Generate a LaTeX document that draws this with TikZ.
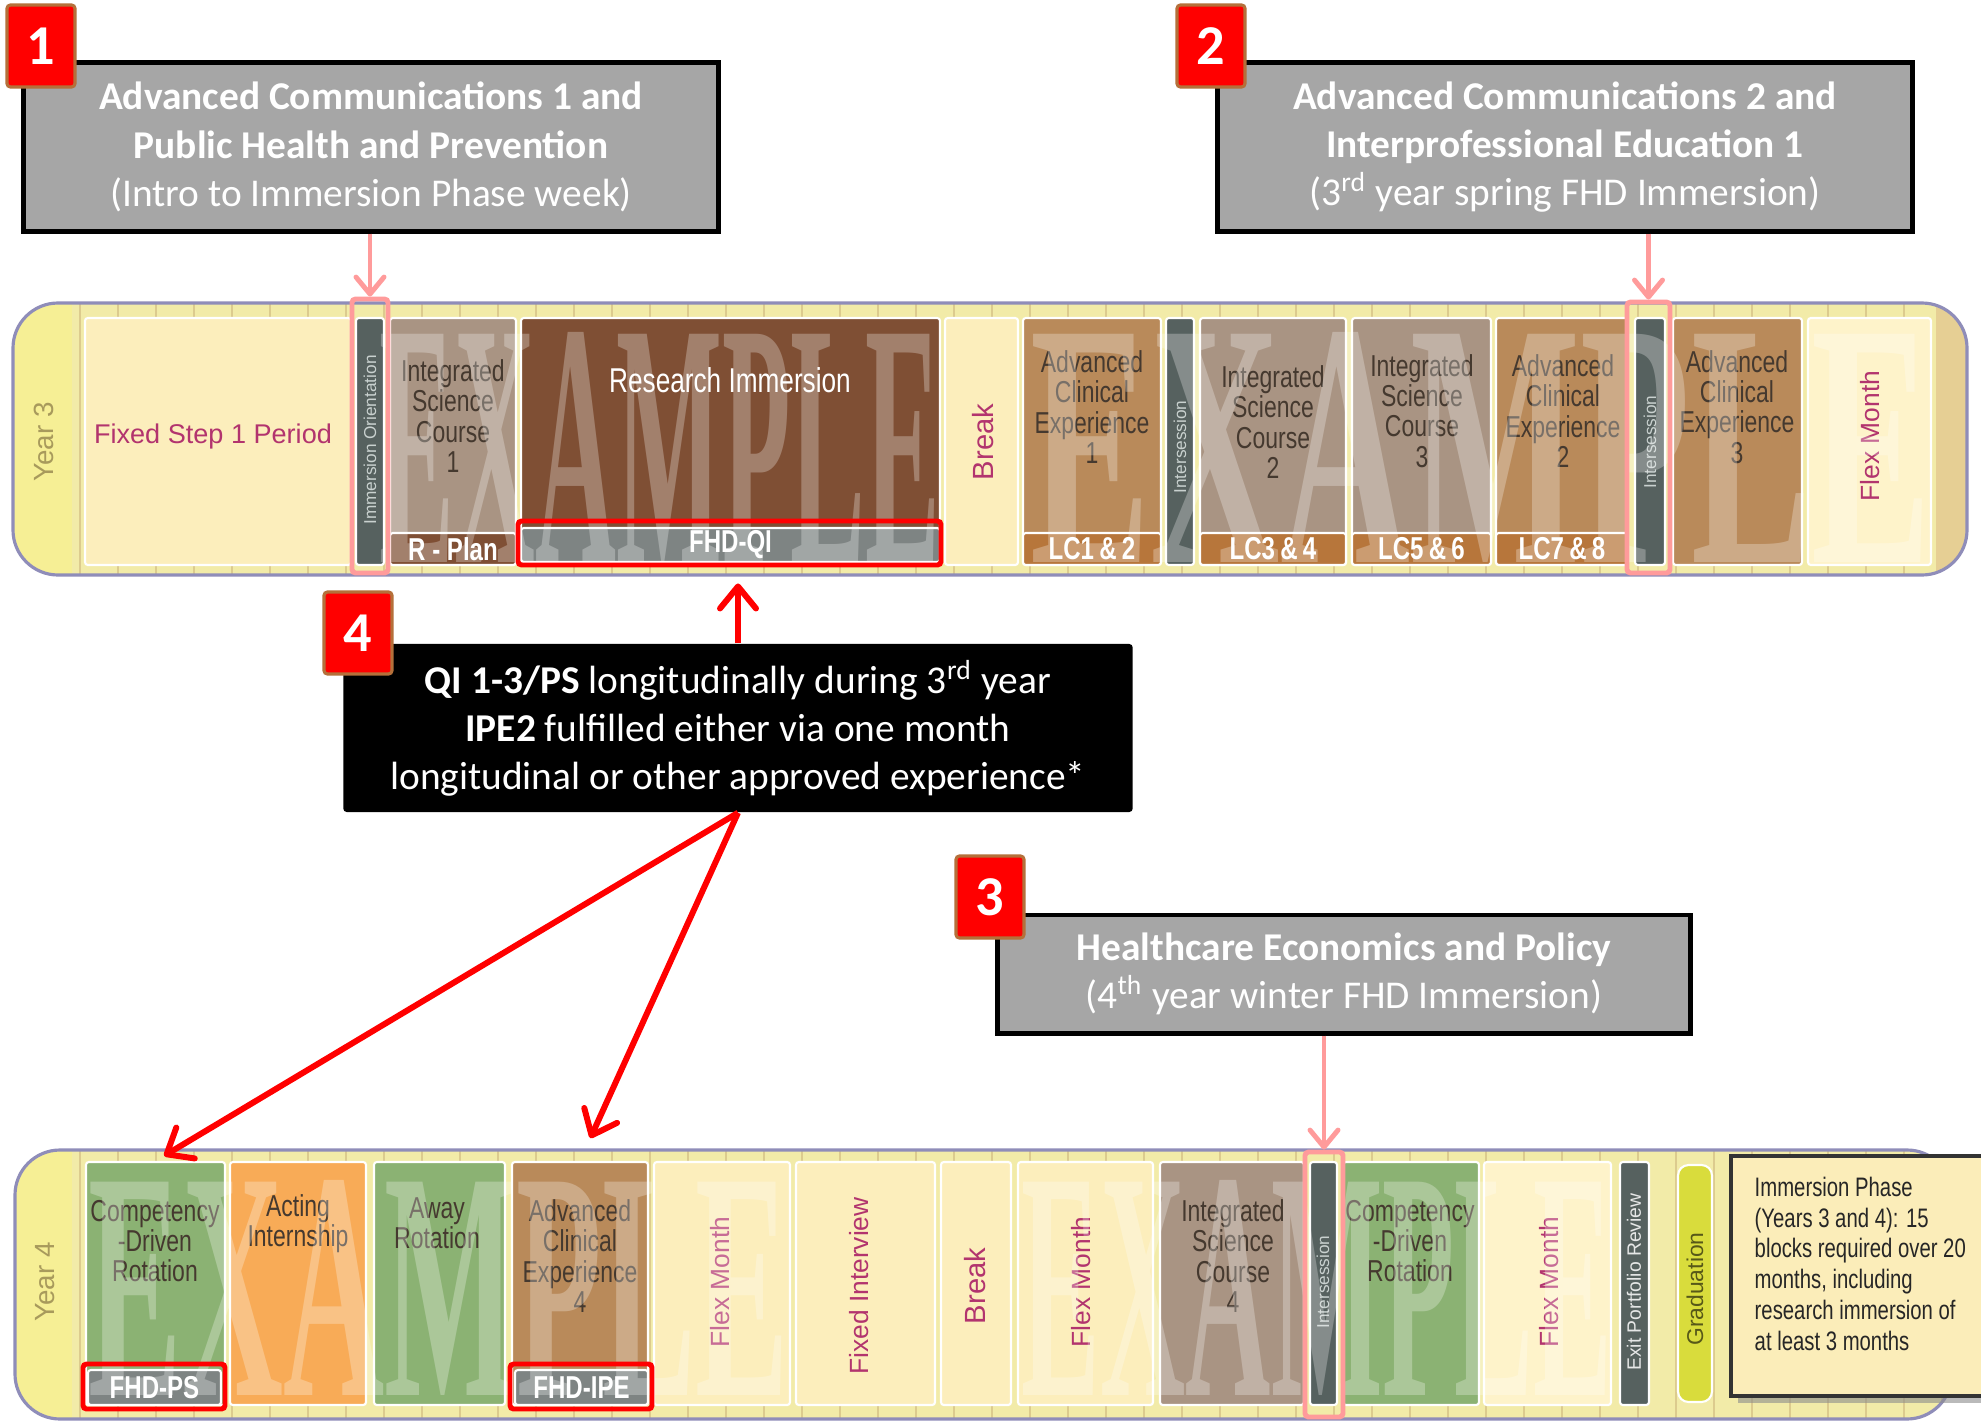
\documentclass[tikz,border=0pt]{standalone}
\usepackage{fontspec}
\usepackage{graphicx}
\setmainfont{Carlito}
\newfontfamily\arialfont{Liberation Sans}
\newfontfamily\narrowfont[FakeStretch=0.76]{Liberation Sans}
\newfontfamily\wmfont{Liberation Serif}
\usetikzlibrary{arrows.meta, fit, positioning, shadows}

\definecolor{bandyel}{HTML}{F2EBA8}
\definecolor{bandrim}{HTML}{8F8DB9}
\definecolor{yearyel}{HTML}{F6EF95}
\definecolor{bandend}{HTML}{E6CF94}
\definecolor{tickc}{HTML}{DCCB8E}
\definecolor{palec}{HTML}{FCEEBC}
\definecolor{palelt}{HTML}{FEF3CA}
\definecolor{slatec}{HTML}{56615F}
\definecolor{iscc}{HTML}{A99483}
\definecolor{resc}{HTML}{7F4F34}
\definecolor{acec}{HTML}{B98A5A}
\definecolor{lcc}{HTML}{B7763B}
\definecolor{fhdc}{HTML}{7E8483}
\definecolor{greenc}{HTML}{8BB273}
\definecolor{orangec}{HTML}{F8AB57}
\definecolor{gradc}{HTML}{D9DC3C}
\definecolor{infoc}{HTML}{FBEDB9}
\definecolor{magc}{HTML}{B2346E}
\definecolor{yeartxt}{HTML}{A89A5C}
\definecolor{callgrey}{HTML}{A6A6A6}
\definecolor{badgerim}{HTML}{B5703A}
\definecolor{hlpink}{HTML}{FF9B9B}
\definecolor{blktxt}{HTML}{45392F}
\definecolor{slatetxt}{HTML}{C9D1CF}

\begin{document}
\begin{tikzpicture}[x=0.01cm, y=-0.01cm,
    callbox/.style={draw=black, line width=1.4pt, fill=callgrey, text=white, align=center,
      inner sep=0pt, font=\fontsize{11.2}{13.7}\selectfont},
    blackbox/.style={fill=black, rounded corners=1pt, text=white, align=center,
      inner sep=0pt, font=\fontsize{11.2}{13.7}\selectfont},
    badge/.style={draw=badgerim, line width=0.9pt, fill=red, text=white, rounded corners=1pt,
      minimum width=0.68cm, minimum height=0.82cm, inner sep=0pt,
      font=\fontsize{16}{16}\selectfont\bfseries},
    yearband/.style={draw=bandrim, line width=0.9pt, rounded corners=0.45cm, inner sep=0pt},
    yearlbl/.style={rotate=90, text=yeartxt, inner sep=0pt, font=\arialfont\fontsize{7.9}{8}\selectfont},
    blk/.style={draw=white, line width=0.6pt, inner sep=0pt, rounded corners=0.8pt},
    blktext/.style={text=blktxt, align=center, inner sep=0pt,
      font=\narrowfont\fontsize{8.6}{8.6}\selectfont},
    magtext/.style={rotate=90, text=magc, inner sep=0pt, font=\arialfont\fontsize{7.5}{8}\selectfont},
    slatetext/.style={rotate=90, text=slatetxt, inner sep=0pt, font=\arialfont\fontsize{4.9}{5}\selectfont},
    striptext/.style={text=white, inner sep=0pt, font=\narrowfont\bfseries\fontsize{9}{9}\selectfont},
    wmark/.style={text=white, text opacity=0.28, inner sep=0pt, font=\wmfont\bfseries},
    hl/.style={draw=hlpink, line width=1.4pt, rounded corners=1pt, inner sep=0pt},
    redbox/.style={draw=red, line width=1.4pt, rounded corners=1pt, inner sep=0pt},
    pinkarrow/.style={draw=hlpink, line width=1.4pt, -{Straight Barb[length=0.17cm, width=0.28cm, round]}},
    redarrow/.style={draw=red, line width=1.7pt, -{Straight Barb[length=0.22cm, width=0.36cm, round]}}]

\clip (0,0) rectangle (1981,1421);
\fill[white] (0,0) rectangle (1981,1421);

% callouts
\node[callbox, minimum width=6.94cm, minimum height=1.68cm] (callA) at (371,147)
  {\textbf{Advanced Communications 1 and}\\\textbf{Public Health and Prevention}\\(Intro to Immersion Phase week)};
\node[badge] (numA) at (41,46) {1};
\node[callbox, minimum width=6.94cm, minimum height=1.68cm] (callB) at (1565,147)
  {\textbf{Advanced Communications 2 and}\\\textbf{Interprofessional Education 1}\\(3\textsuperscript{rd} year spring FHD Immersion)};
\node[badge] (numB) at (1211,46) {2};
\node[callbox, minimum width=6.92cm, minimum height=1.18cm] (callC) at (1344,974)
  {\textbf{Healthcare Economics and Policy}\\(4\textsuperscript{th} year winter FHD Immersion)};
\node[badge] (numC) at (990,897) {3};
\node[blackbox, minimum width=7.89cm, minimum height=1.68cm] (callD) at (738,728)
  {\textbf{QI 1-3/PS} longitudinally during 3\textsuperscript{rd} year\\\textbf{IPE2} fulfilled either via one month\\longitudinal or other approved experience*};
\node[badge] (numD) at (358,633) {4};

% year 3
\begin{scope}
  \clip[rounded corners=0.45cm] (13,303) rectangle (1967,575);
  \fill[bandyel] (13,303) rectangle (1967,575);
  \fill[yearyel] (13,303) rectangle (72,575);
  \fill[bandend] (1936,303) rectangle (1967,575);
  \foreach \x in {80,118,...,1930} \draw[tickc, line width=0.4pt] (\x,303) -- (\x,575);
\end{scope}
\node[yearband, fit={(13,303) (1967,575)}] (band3) {};
\node[yearlbl] (yr3) at (44,442) {Year 3};

\node[blk, fill=palec, fit={(85,318) (351,565)}] (fixed3) {};
\node[blk, fill=slatec, fit={(356,318) (384,565)}] (orient3) {};
\node[blk, fill=iscc, fit={(390,318) (516,565)}] (isc1) {};
\node[blk, fill=resc, fit={(521,318) (940,565)}] (res3) {};
\node[blk, fill=palec, fit={(945,318) (1018,565)}] (break3) {};
\node[blk, fill=acec, fit={(1023,318) (1161,565)}] (ace1) {};
\node[blk, fill=slatec, fit={(1166,318) (1194,565)}] (inter3a) {};
\node[blk, fill=iscc, fit={(1200,318) (1346,565)}] (isc2) {};
\node[blk, fill=iscc, fit={(1352,318) (1491,565)}] (isc3) {};
\node[blk, fill=acec, fit={(1496,318) (1628,565)}] (ace2) {};
\node[blk, fill=slatec, fit={(1635,318) (1665,565)}] (inter3b) {};
\node[blk, fill=acec, fit={(1673,318) (1802,565)}] (ace3) {};
\node[blk, fill=palelt, fit={(1808,318) (1931,565)}] (flex3) {};

\node[blk, fill=resc, fit={(390,533) (516,565)}] (rplan) {};
\node[blk, fill=fhdc, fit={(521,528) (940,562)}] (fhdqi) {};
\node[blk, fill=lcc, fit={(1023,533) (1161,565)}] (lc12) {};
\node[blk, fill=lcc, fit={(1200,533) (1346,565)}] (lc34) {};
\node[blk, fill=lcc, fit={(1352,533) (1491,565)}] (lc56) {};
\node[blk, fill=lcc, fit={(1496,533) (1628,565)}] (lc78) {};

\node[text=magc, inner sep=0pt, font=\arialfont\fontsize{7.7}{8}\selectfont] (fixedtxt) at (213,436) {Fixed Step 1 Period};
\node[slatetext] (orienttxt) at (370,440) {Immersion Orientation};
\node[blktext] (isc1txt) at (453,416) {Integrated\\Science\\Course\\1};
\node[blktext, text=white, font=\narrowfont\fontsize{9.8}{10}\selectfont] (restxt) at (730,380) {Research Immersion};
\node[magtext, font=\arialfont\fontsize{8.3}{9}\selectfont] (break3txt) at (983,442) {Break};
\node[blktext] (ace1txt) at (1092,407) {Advanced\\Clinical\\Experience\\1};
\node[slatetext] (inter3atxt) at (1180,447) {Intersession};
\node[blktext] (isc2txt) at (1273,422) {Integrated\\Science\\Course\\2};
\node[blktext] (isc3txt) at (1422,411) {Integrated\\Science\\Course\\3};
\node[blktext] (ace2txt) at (1563,411) {Advanced\\Clinical\\Experience\\2};
\node[slatetext] (inter3btxt) at (1650,442) {Intersession};
\node[blktext] (ace3txt) at (1737,407) {Advanced\\Clinical\\Experience\\3};
\node[magtext] (flex3txt) at (1870,436) {Flex Month};

\node[wmark] (wm3a) at (660,447) {\resizebox{5.6cm}{2.3cm}{EXAMPLE}};
\node[wmark] (wm3b) at (1481,447) {\resizebox{9.0cm}{2.3cm}{EXAMPLE}};

\node[striptext] (rplantxt) at (rplan) {R - Plan};
\node[striptext] (fhdqitxt) at (fhdqi) {FHD-QI};
\node[striptext] (lc12txt) at (lc12) {LC1\,\&\,2};
\node[striptext] (lc34txt) at (lc34) {LC3\,\&\,4};
\node[striptext] (lc56txt) at (lc56) {LC5\,\&\,6};
\node[striptext] (lc78txt) at (lc78) {LC7\,\&\,8};

\node[hl, fit={(352,299) (388,573)}] (hlOrient) {};
\node[hl, fit={(1627,302) (1670,573)}] (hlInter3) {};
\node[redbox, fit={(518,521) (941,565)}] (qiBox) {};

% year 4
\begin{scope}
  \clip[rounded corners=0.45cm] (15,1150) rectangle (1952,1419);
  \fill[bandyel] (15,1150) rectangle (1952,1419);
  \fill[yearyel] (15,1150) rectangle (72,1419);
  \foreach \x in {80,118,...,1950} \draw[tickc, line width=0.4pt] (\x,1150) -- (\x,1419);
\end{scope}
\node[yearband, fit={(15,1150) (1952,1419)}] (band4) {};
\node[yearlbl] (yr4) at (45,1282) {Year 4};

\node[blk, fill=greenc, fit={(86,1162) (225,1405)}] (cdrA) {};
\node[blk, fill=orangec, fit={(230,1162) (366,1405)}] (actA) {};
\node[blk, fill=greenc, fit={(374,1162) (505,1405)}] (awayA) {};
\node[blk, fill=acec, fit={(512,1162) (648,1405)}] (aceD) {};
\node[blk, fill=palec, fit={(654,1162) (790,1405)}] (flexA) {};
\node[blk, fill=palec, fit={(796,1162) (935,1405)}] (fixedIv) {};
\node[blk, fill=palec, fit={(941,1162) (1011,1405)}] (break4) {};
\node[blk, fill=palec, fit={(1018,1162) (1153,1405)}] (flexB) {};
\node[blk, fill=iscc, fit={(1160,1162) (1304,1405)}] (isc4) {};
\node[blk, fill=slatec, fit={(1310,1162) (1337,1405)}] (inter4) {};
\node[blk, fill=greenc, fit={(1343,1162) (1479,1405)}] (cdrB) {};
\node[blk, fill=palelt, fit={(1484,1162) (1611,1405)}] (flexC) {};
\node[blk, fill=slatec, fit={(1620,1162) (1649,1405)}] (exitRev) {};
\node[blk, fill=gradc, rounded corners=3pt, fit={(1678,1165) (1712,1402)}] (grad) {};

\node[blk, fill=fhdc, fit={(88,1370) (221,1405)}] (psStrip) {};
\node[blk, fill=fhdc, fit={(515,1370) (648,1405)}] (ipeStrip) {};

\node[blktext] (cdrAtxt) at (155,1241) {Competency\\-Driven\\Rotation};
\node[blktext] (actAtxt) at (298,1224) {Acting\\Internship};
\node[blktext] (awayAtxt) at (437,1223) {Away\\Rotation};
\node[blktext] (aceDtxt) at (580,1256) {Advanced\\Clinical\\Experience\\4};
\node[magtext] (flexAtxt) at (720,1282) {Flex Month};
\node[magtext] (fixedIvtxt) at (859,1286) {Fixed Interview};
\node[magtext, font=\arialfont\fontsize{8.3}{9}\selectfont] (break4txt) at (975,1286) {Break};
\node[magtext] (flexBtxt) at (1081,1282) {Flex Month};
\node[blktext] (isc4txt) at (1233,1256) {Integrated\\Science\\Course\\4};
\node[slatetext] (inter4txt) at (1323,1282) {Intersession};
\node[blktext] (cdrBtxt) at (1410,1241) {Competency\\-Driven\\Rotation};
\node[magtext] (flexCtxt) at (1549,1282) {Flex Month};
\node[slatetext, font=\arialfont\fontsize{5.5}{6}\selectfont, text=white!85!slatec] (exittxt) at (1634,1282) {Exit Portfolio Review};
\node[rotate=90, text=black!60!gradc, inner sep=0pt, font=\arialfont\fontsize{6.5}{7}\selectfont] (gradtxt) at (1695,1289) {Graduation};

\node[wmark] (wm4a) at (439,1288) {\resizebox{7.0cm}{2.15cm}{EXAMPLE}};
\node[wmark] (wm4b) at (1317,1288) {\resizebox{5.9cm}{2.15cm}{EXAMPLE}};

\node[striptext] (pstxt) at (psStrip) {FHD-PS};
\node[striptext] (ipetxt) at (ipeStrip) {FHD-IPE};

\node[hl, fit={(1305,1152) (1343,1417)}] (hlInter4) {};
\node[redbox, fit={(83,1364) (225,1409)}] (psBox) {};
\node[redbox, fit={(510,1364) (652,1409)}] (ipeBox) {};

% info box
\node[draw=black!80, line width=0.9pt, fill=infoc, inner sep=0pt,
  drop shadow={shadow xshift=0.07cm, shadow yshift=-0.07cm, fill=black!45, opacity=0.6},
  fit={(1731,1156) (1995,1396)}] (info) {};
\node[anchor=north west, align=left, inner sep=0pt, text=black!85,
  font=\narrowfont\fontsize{7.6}{8.8}\selectfont] (infotxt) at (1754,1176)
  {Immersion Phase\\(Years 3 and 4): 15\\blocks required over 20\\months, including\\research immersion of\\at least 3 months};

% arrows
\draw[pinkarrow] (hlOrient.north |- callA.south) -- (hlOrient.north);
\draw[pinkarrow] (hlInter3.north |- callB.south) -- (hlInter3.north);
\draw[pinkarrow] (hlInter4.north |- callC.south) -- (hlInter4.north);
\draw[redarrow, shorten >=0.16cm] (callD.north) -- (callD.north |- qiBox.south);
\draw[redarrow, shorten >=0.1cm] (callD.south) -- (cdrA.north);
\draw[redarrow, shorten >=0.25cm] (callD.south) -- (aceD.north);
\end{tikzpicture}
\end{document}
